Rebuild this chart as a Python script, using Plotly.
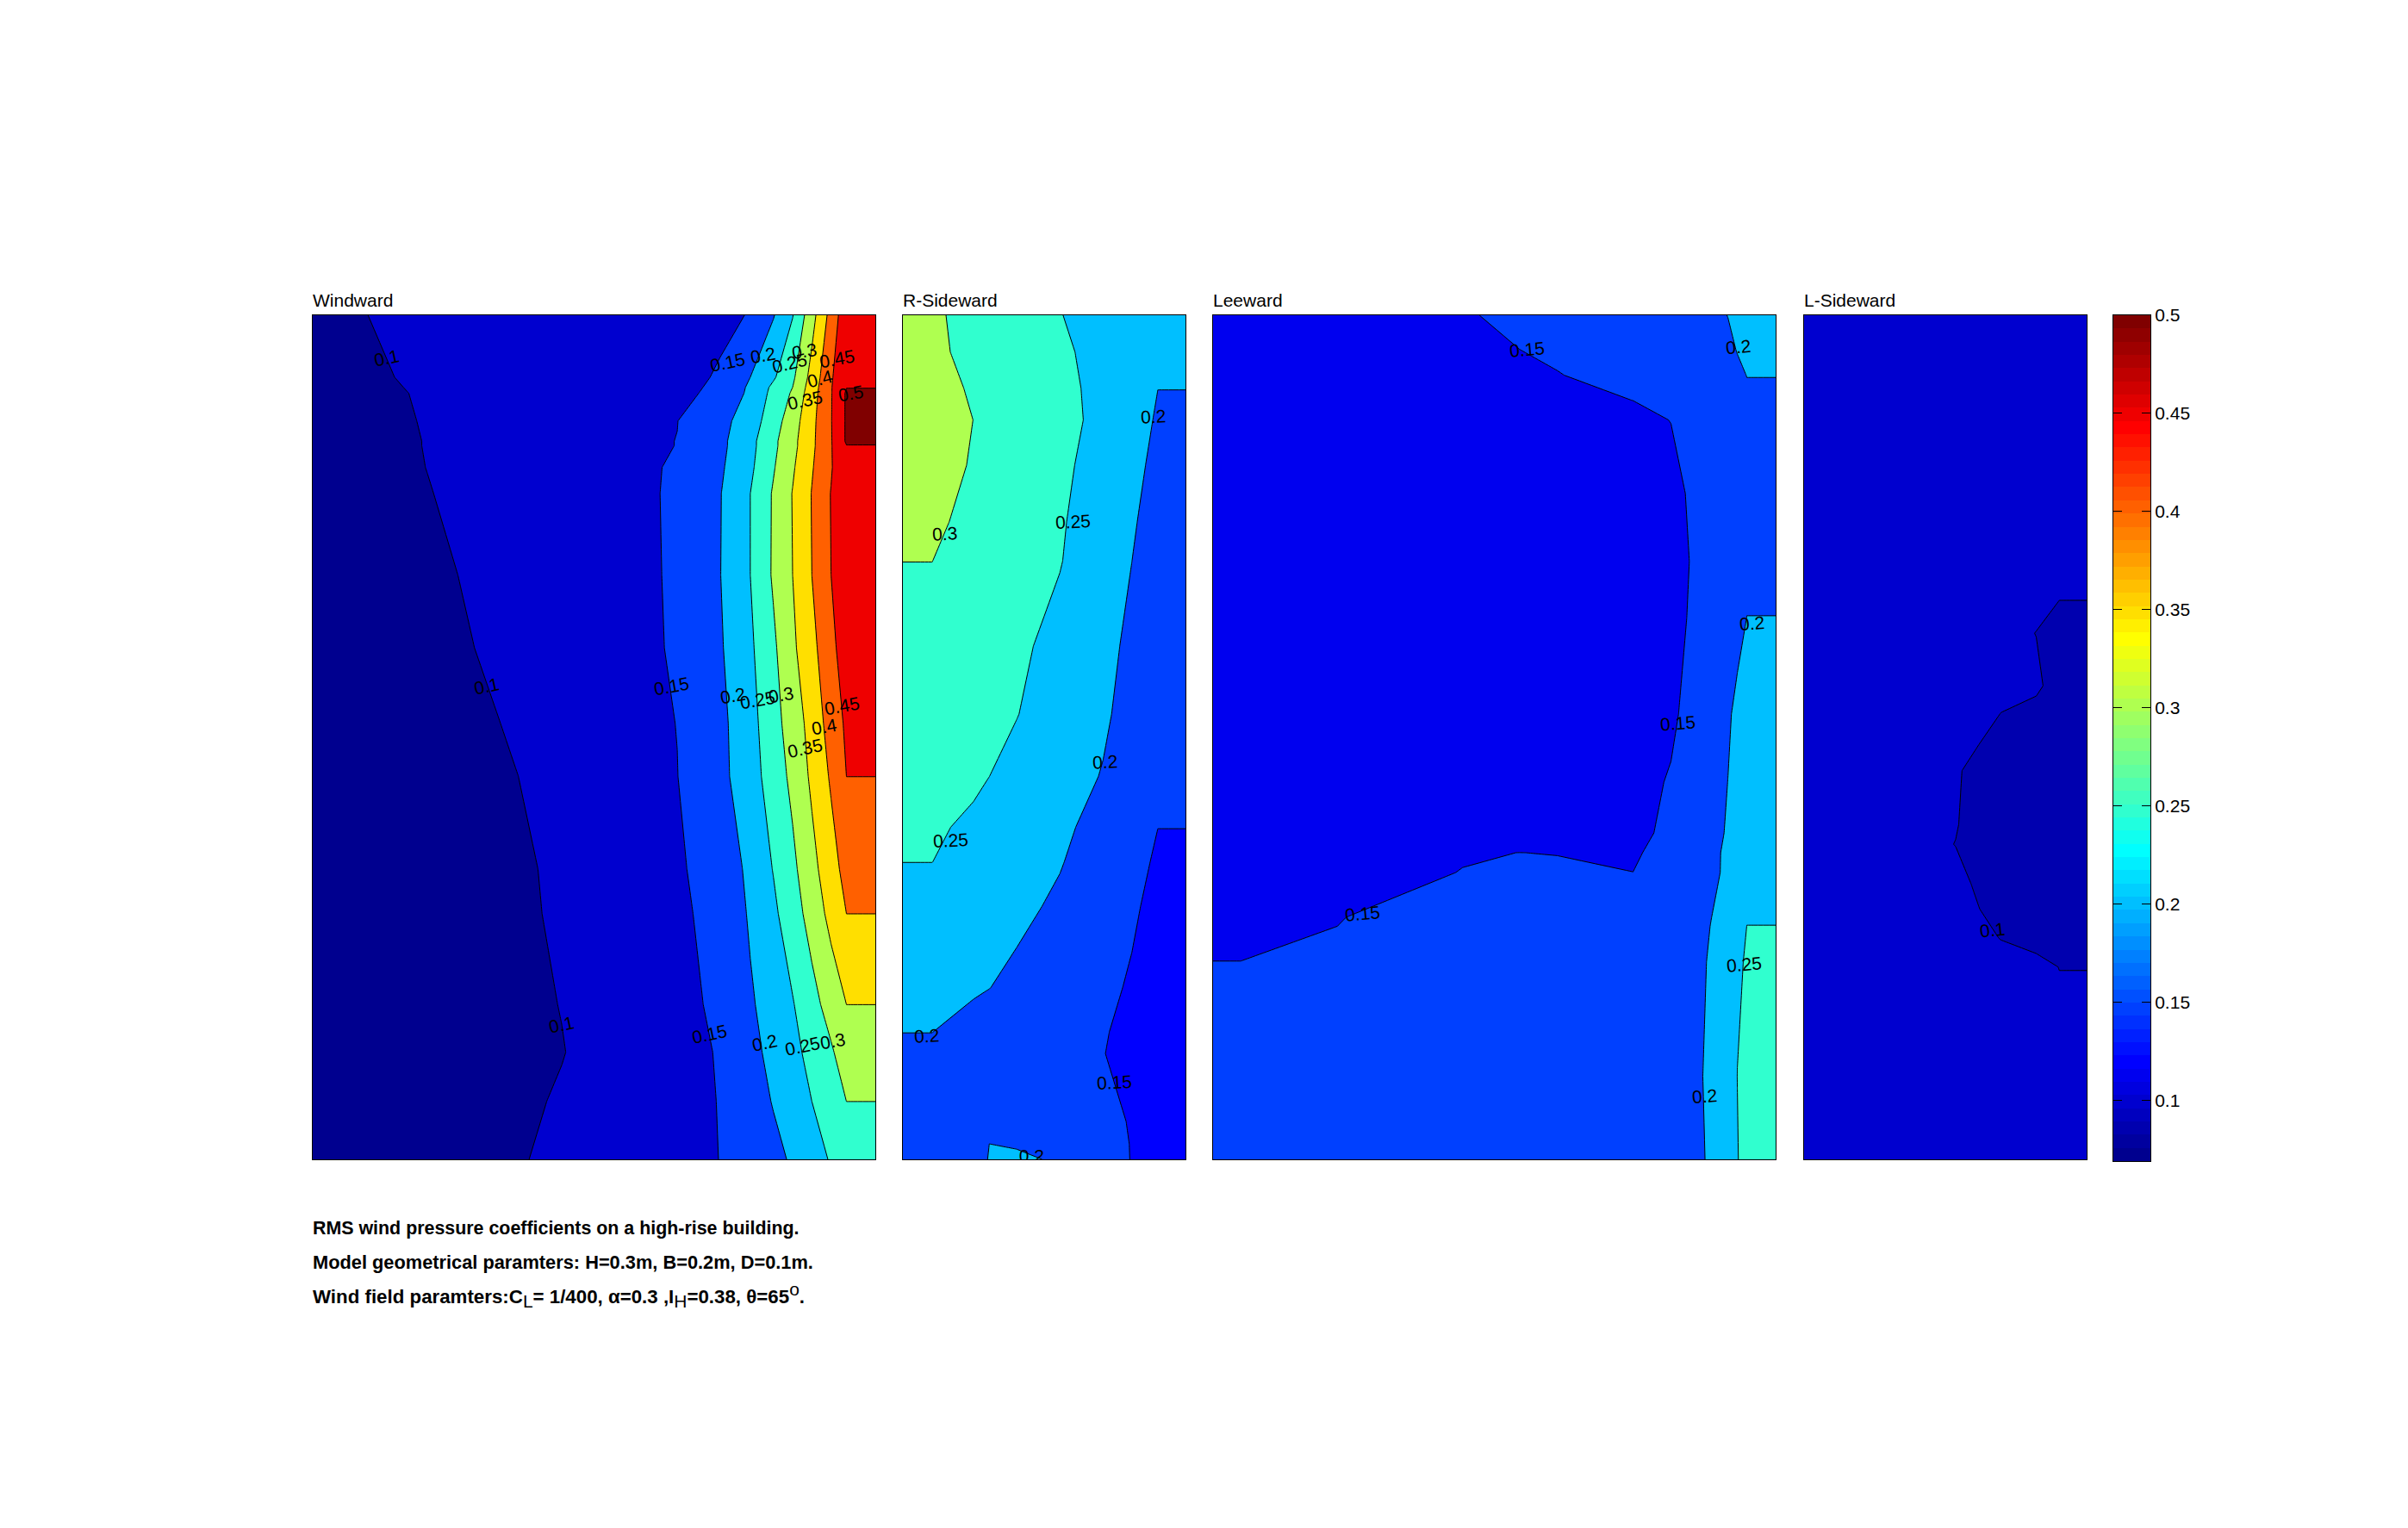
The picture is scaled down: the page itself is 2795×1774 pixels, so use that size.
import plotly.graph_objects as go

W, H = 2795, 1774

# ---------- measured field values (RMS Cp) on each face ----------
windward_x = [52, 350, 700, 1000, 1110, 1190, 1250, 1300, 1350, 1400, 1440, 1515]
windward_y = [107, 320, 355, 375, 470, 540, 555, 630, 720, 1000, 1250, 1510, 1691, 2010, 2163, 2475, 2640, 2808, 3008]
windward_z = [
    [.093, .1075, .1255, .141, .1466, .1508, .197, .248, .332, .418, .485, .485],
    [.087, .1052, .1265, .1448, .1515, .2001, .244, .291, .367, .444, .495, .495],
    [.0848, .104, .1264, .1457, .1528, .209, .26, .3002, .375, .447, .499, .499],
    [.0834, .1032, .1264, .1463, .1536, .212, .2635, .306, .379, .447, .506, .506],
    [.0803, .102, .1276, .1494, .1836, .225, .277, .327, .387, .448, .506, .506],
    [.0784, .1011, .1278, .1506, .1875, .236, .289, .336, .39, .447, .506, .506],
    [.0784, .1011, .1278, .1506, .1875, .236, .289, .336, .39, .447, .499, .499],
    [.0762, .1004, .1289, .1532, .192, .241, .296, .344, .396, .446, .496, .496],
    [.0732, .0986, .1283, .1538, .197, .2501, .305, .352, .402, .452, .494, .494],
    [.07, .0925, .1255, .1538, .198, .2501, .306, .3501, .4001, .4501, .487, .487],
    [.07, .0876, .123, .1534, .194, .242, .2915, .341, .3866, .435, .48, .48],
    [.07, .079, .1176, .1506, .187, .233, .282, .323, .368, .421, .458, .458],
    [.07, .0716, .1136, .1494, .186, .229, .273, .312, .359, .4065, .4502, .4502],
    [.07, .07, .1065, .1468, .1609, .2135, .252, .289, .335, .38, .417, .417],
    [.07, .07, .1052, .1446, .1591, .206, .241, .277, .32, .365, .4002, .4002],
    [.07, .07, .101, .141, .1557, .194, .222, .247, .283, .3206, .3502, .3502],
    [.07, .07, .0987, .138, .1523, .187, .2124, .237, .264, .294, .325, .325],
    [.07, .07, .1038, .1383, .151, .1808, .2024, .226, .2501, .278, .3002, .3002],
    [.07, .073, .1087, .139, .1503, .1727, .189, .205, .23, .254, .27, .27],
]

rside_x = [55, 157, 300, 345, 355, 450, 600, 750, 850, 940, 1036]
rside_y = [55, 120, 184, 240, 320, 420, 489, 640, 760, 870, 960, 1021, 1100, 1243, 1322, 1360, 1480, 1520, 1547]
rside_z = [
    [.306, .306, .288, .2826, .2814, .27, .2512, .235, .2246, .215, .215],
    [.307, .307, .291, .2859, .2848, .274, .257, .237, .2217, .208, .208],
    [.313, .313, .296, .2909, .2898, .279, .261, .2385, .218, .2002, .2002],
    [.317, .317, .2998, .2942, .2929, .281, .263, .239, .215, .1964, .1964],
    [.315, .315, .297, .2913, .29, .278, .259, .2327, .21, .191, .191],
    [.307, .307, .29, .2846, .2834, .272, .2545, .2257, .2039, .185, .185],
    [.3002, .3002, .2845, .2795, .2784, .268, .252, .2214, .2001, .18, .18],
    [.286, .286, .2722, .2679, .2669, .2577, .2377, .2114, .1917, .1706, .1706],
    [.2745, .2745, .2632, .2596, .2588, .2512, .2292, .2062, .1852, .1629, .1629],
    [.2642, .2642, .2571, .2513, .2501, .2377, .2182, .1978, .1757, .1558, .1558],
    [.2558, .2558, .2428, .2376, .2365, .2255, .2083, .1856, .1669, .1502, .1502],
    [.2502, .2502, .2348, .2299, .2289, .2186, .2025, .1781, .161, .1454, .1454],
    [.2369, .2369, .2236, .2194, .2185, .2097, .1931, .1699, .1546, .1408, .1408],
    [.2131, .2131, .204, .2012, .2006, .1906, .1741, .1575, .1465, .1366, .1366],
    [.2002, .2002, .1889, .1852, .1844, .1766, .1643, .152, .1427, .134, .134],
    [.195, .195, .187, .1837, .183, .176, .165, .1507, .142, .133, .133],
    [.178, .178, .178, .179, .1795, .182, .175, .16, .1475, .131, .131],
    [.173, .173, .177, .185, .2002, .195, .176, .16, .149, .1305, .1305],
    [.17, .17, .172, .19, .215, .21, .193, .16, .1492, .13, .13],
]

leeward_x = [42, 115, 400, 700, 850, 950, 1150, 1250, 1320, 1400, 1425, 1450, 1526]
leeward_y = [55, 115, 161, 205, 240, 370, 490, 590, 760, 880, 970, 1005, 1040, 1120, 1135, 1198, 1400, 1547]
leeward_z = [
    [.135, .135, .14, .1466, .158, .1656, .1809, .1885, .1939, .2002, .205, .21, .21],
    [.13, .13, .135, .137, .15, .1586, .1759, .1846, .1906, .197, .2006, .2043, .2043],
    [.128, .128, .13, .135, .143, .1481, .1688, .179, .1863, .1946, .1974, .2002, .2002],
    [.125, .125, .128, .132, .138, .142, .1502, .166, .1772, .19, .194, .198, .198],
    [.124, .124, .127, .13, .134, .136, .143, .1505, .1622, .1811, .1885, .196, .196],
    [.123, .123, .125, .127, .129, .13, .135, .1406, .158, .1777, .184, .19, .19],
    [.122, .122, .124, .126, .128, .129, .133, .1377, .1555, .1835, .189, .195, .195],
    [.123, .123, .125, .127, .129, .13, .134, .139, .1575, .1837, .192, .2002, .2002],
    [.124, .124, .126, .128, .13, .131, .136, .1429, .1679, .1964, .206, .2156, .2156],
    [.125, .125, .127, .129, .131, .132, .1365, .1531, .175, .2002, .2135, .2266, .2266],
    [.127, .127, .13, .132, .133, .134, .1351, .1622, .181, .2027, .219, .2348, .2348],
    [.13, .13, .1385, .1485, .1501, .1495, .1445, .1665, .1842, .2049, .221, .238, .238],
    [.132, .132, .142, .1505, .1538, .1529, .1502, .168, .1851, .205, .223, .2414, .2414],
    [.14, .14, .1503, .1555, .1585, .1605, .168, .1775, .191, .2105, .232, .2486, .2486],
    [.1415, .1415, .151, .156, .159, .161, .1685, .178, .1915, .212, .235, .2502, .2502],
    [.1502, .1502, .1555, .159, .1618, .1635, .171, .181, .1935, .2155, .2475, .2515, .2515],
    [.157, .157, .157, .159, .16, .161, .166, .178, .1925, .2354, .2502, .258, .258],
    [.158, .158, .158, .16, .162, .163, .167, .177, .19, .2305, .2488, .26, .26],
]

lside_x = [43, 450, 570, 650, 725, 850, 930, 1025]
lside_y = [55, 400, 555, 617, 710, 757, 860, 955, 990, 1060, 1105, 1155, 1207, 1400, 1547]
lside_z = [
    [.115, .114, .113, .112, .111, .11, .11, .11],
    [.113, .112, .111, .11, .108, .105, .104, .104],
    [.112, .111, .11, .109, .107, .103, .1002, .1002],
    [.11, .109, .108, .106, .104, .0998, .097, .097],
    [.109, .108, .107, .106, .105, .1025, .094, .094],
    [.108, .107, .105, .104, .1001, .096, .093, .093],
    [.107, .104, .1012, .0968, .094, .091, .09, .09],
    [.107, .104, .1006, .096, .093, .09, .089, .089],
    [.106, .103, .0998, .095, .092, .089, .088, .088],
    [.107, .105, .103, .0985, .095, .091, .089, .089],
    [.107, .105, .104, .1002, .0965, .092, .09, .09],
    [.107, .106, .105, .104, .0996, .0955, .0935, .0935],
    [.108, .107, .1065, .106, .105, .1038, .0998, .0998],
    [.109, .109, .108, .108, .108, .107, .106, .106],
    [.112, .112, .111, .111, .111, .11, .11, .11],
]

# contour levels and tick labels
level_start, level_end, level_step = 0.1, 0.5, 0.05
bar_ticks = [0.1, 0.15, 0.2, 0.25, 0.3, 0.35, 0.4, 0.45, 0.5]
bar_labels = ["0.1", "0.15", "0.2", "0.25", "0.3", "0.35", "0.4", "0.45", "0.5"]
bar_min = 0.069

# band colours, lowest band first
windward_bands = ["#00008F", "#0000CF", "#0040FF", "#00BFFF", "#30FFCF", "#AFFF50", "#FFDF00", "#FF6000", "#EF0000", "#800000"]
rside_bands = ["#00008F", "#0000FF", "#0040FF", "#00BFFF", "#30FFCF", "#AFFF50", "#FFDF00", "#FF6000", "#EF0000", "#800000"]
leeward_bands = ["#00008F", "#0000EF", "#0040FF", "#00BFFF", "#30FFCF", "#AFFF50", "#FFDF00", "#FF6000", "#EF0000", "#800000"]
lside_bands = ["#0000AF", "#0000CF", "#0040FF", "#00BFFF", "#30FFCF", "#AFFF50", "#FFDF00", "#FF6000", "#EF0000", "#800000"]

# contour labels: text, x, y, angle
windward_labels = [
    ("0.1", 243, 253, -12), ("0.1", 503, 1380, -12), ("0.1", 698, 2545, -12),
    ("0.15", 1130, 268, -12), ("0.15", 985, 1382, -10), ("0.15", 1083, 2578, -12),
    ("0.2", 1222, 245, -10), ("0.2", 1145, 1413, -10), ("0.2", 1228, 2608, -12),
    ("0.25", 1293, 270, -14), ("0.25", 1210, 1430, -10), ("0.25", 1325, 2618, -12),
    ("0.3", 1330, 230, -8), ("0.3", 1270, 1410, -10), ("0.3", 1405, 2600, -10),
    ("0.35", 1333, 398, -12), ("0.35", 1333, 1595, -12),
    ("0.4", 1372, 325, -14), ("0.4", 1382, 1520, -10),
    ("0.45", 1415, 255, -10), ("0.45", 1428, 1450, -10),
    ("0.5", 1452, 375, -10),
]
rside_labels = [
    ("0.3", 200, 441, -3), ("0.25", 647, 420, -3), ("0.25", 221, 983, -3),
    ("0.2", 924, 234, -3), ("0.2", 755, 845, -3), ("0.2", 137, 1328, -3), ("0.15", 788, 1410, -3),
]
leeward_labels = [
    ("0.15", 870, 115, -5), ("0.2", 1427, 110, -5), ("0.2", 1463, 600, -4),
    ("0.15", 1268, 776, -4), ("0.15", 437, 1113, -5), ("0.25", 1442, 1202, -5), ("0.2", 1338, 1435, -4),
]
lside_labels = [("0.1", 698, 1142, -6)]

SUB = '<span style="font-size:21px">%s</span>'
caption_lines = [
    ("<b>RMS wind pressure coefficients on a high-rise building.</b>", 21.4),
    ("<b>Model geometrical paramters: H=0.3m, B=0.2m, D=0.1m.</b>", 21.8),
    ("<b>Wind field paramters:C</b><sub>" + SUB % "L" + "</sub><b>= 1/400, \u03b1=0.3 ,I</b><sub>" + SUB % "H"
     + "</sub><b>=0.38, \u03b8=65</b><sup>" + SUB % "o" + "</sup><b>.</b>", 22.3),
]

panels = [
    ("Windward", windward_x, windward_y, windward_z, windward_bands, windward_labels, (363, 1016)),
    ("R-Sideward", rside_x, rside_y, rside_z, rside_bands, rside_labels, (1048, 1376)),
    ("Leeward", leeward_x, leeward_y, leeward_z, leeward_bands, leeward_labels, (1408, 2061)),
    ("L-Sideward", lside_x, lside_y, lside_z, lside_bands, lside_labels, (2094, 2422)),
]
TOP, BOTTOM = 366, 1346
FONT = "Liberation Sans"


def jet(i, n=64):
    t = (i + 1) / n * 4
    def ramp(v):
        return max(0.0, min(1.0, v))
    r = ramp(min(t - 1.5, 4.5 - t))
    g = ramp(min(t - 0.5, 3.5 - t))
    b = ramp(min(t + 0.5, 2.5 - t))
    return "rgb(%d,%d,%d)" % (round(r * 255), round(g * 255), round(b * 255))


fig = go.Figure()
annotations = []
layout = {}

for k, (name, xs, ys, zs, bands, labels, (x0, x1)) in enumerate(panels, start=1):
    xa, ya = ("x%d" % k if k > 1 else "x"), ("y%d" % k if k > 1 else "y")
    last = len(bands) - 1
    scale = [[i / last, c] for i, c in enumerate(bands)]
    fig.add_trace(go.Contour(
        x=xs, y=ys, z=zs, xaxis=xa, yaxis=ya, autocontour=False,
        contours=dict(start=level_start, end=level_end, size=level_step, coloring="fill", showlines=True),
        line=dict(color="black", width=1, smoothing=0),
        colorscale=scale, showscale=False, hoverinfo="skip",
    ))
    suffix = str(k) if k > 1 else ""
    layout["xaxis" + suffix] = dict(
        domain=[x0 / W, x1 / W], range=[xs[0], xs[-1]], anchor=ya, showgrid=False, zeroline=False, automargin=False,
        showticklabels=False, ticks="", showline=True, mirror=True, linecolor="black", linewidth=1,
    )
    layout["yaxis" + suffix] = dict(
        domain=[1 - BOTTOM / H, 1 - TOP / H], range=[ys[-1], ys[0]], anchor=xa, showgrid=False, zeroline=False,
        automargin=False, showticklabels=False, ticks="", showline=True, mirror=True, linecolor="black", linewidth=1,
    )
    for text, lx, ly, ang in labels:
        annotations.append(dict(text=text, x=lx, y=ly, xref=xa, yref=ya, showarrow=False, textangle=ang,
                                font=dict(family=FONT, size=21, color="black"), xanchor="center", yanchor="middle"))
    annotations.append(dict(text=name, x=x0 / W, y=1 - (TOP - 4) / H, xref="paper", yref="paper", showarrow=False,
                            xanchor="left", yanchor="bottom", xshift=-2,
                            font=dict(family=FONT, size=21, color="black")))

# the clipped label at the foot of the R-Sideward face
fig.add_trace(go.Scatter(x=[502], y=[1543], mode="text", text=["0.2"], xaxis="x2", yaxis="y2", cliponaxis=True,
                         textfont=dict(family=FONT, size=21, color="black"), showlegend=False, hoverinfo="skip"))

# colour bar
n_bar = 64
bar_step = (level_end - bar_min) / n_bar
fig.add_trace(go.Heatmap(
    z=[[i] for i in range(n_bar)], x=[0], y=[bar_min + (i + 0.5) * bar_step for i in range(n_bar)],
    xaxis="x5", yaxis="y5", zmin=0, zmax=n_bar - 1, showscale=False, hoverinfo="skip",
    colorscale=[[i / (n_bar - 1), jet(i, n_bar)] for i in range(n_bar)],
))
layout["xaxis5"] = dict(domain=[2453 / W, 2496 / W], anchor="y5", range=[-0.5, 0.5], showgrid=False, zeroline=False,
                        automargin=False, showticklabels=False, ticks="", showline=True, mirror=True,
                        linecolor="black", linewidth=1)
layout["yaxis5"] = dict(domain=[1 - 1348 / H, 1 - TOP / H], anchor="x5", range=[bar_min, level_end], side="right",
                        showgrid=False, zeroline=False, automargin=False, tickvals=bar_ticks, ticktext=bar_labels,
                        ticks="inside", ticklen=10, tickcolor="black", tickwidth=1, showline=True, mirror="ticks",
                        linecolor="black", linewidth=1, tickfont=dict(family=FONT, size=21, color="black"))

for (line, size), py in zip(caption_lines, [1426, 1465, 1503]):
    annotations.append(dict(text=line, x=363 / W, y=1 - py / H, xref="paper", yref="paper", showarrow=False,
                            xanchor="left", yanchor="middle", xshift=-2, font=dict(family=FONT, size=size, color="black")))

fig.update_layout(width=W, height=H, margin=dict(l=0, r=0, t=0, b=0), paper_bgcolor="white", plot_bgcolor="white",
                  showlegend=False, annotations=annotations, **layout)
fig.write_html("out.html", post_script="document.body.style.margin='0';", config={"displayModeBar": False})
